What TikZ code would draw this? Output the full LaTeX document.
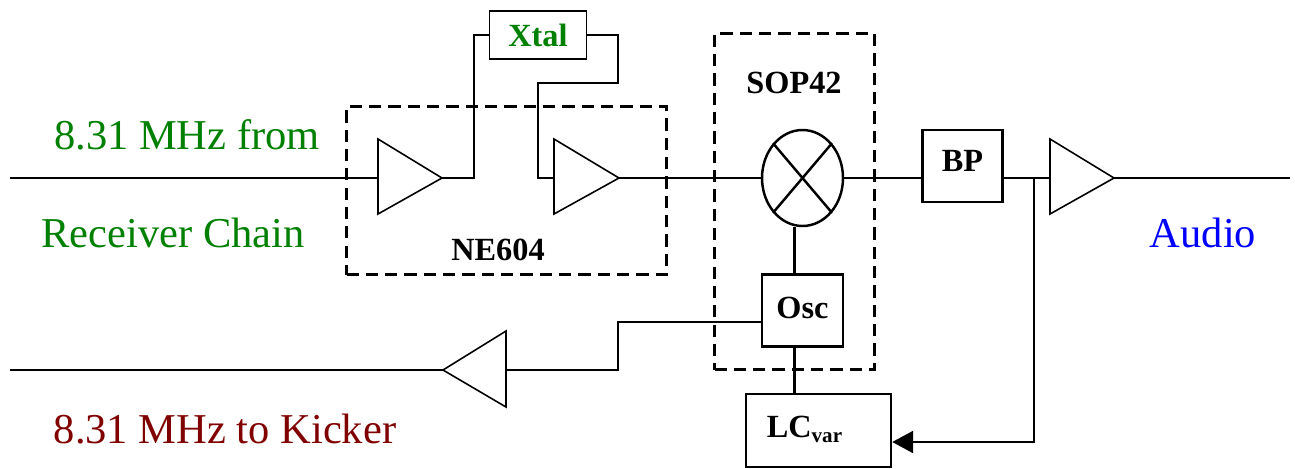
\documentclass[tikz,border=0pt]{standalone}
\usepackage{fontspec}
\setmainfont{Liberation Serif}
\usetikzlibrary{shapes.geometric,arrows.meta}
\definecolor{grn}{RGB}{0,128,0}
\definecolor{mar}{RGB}{128,0,0}
\definecolor{blu}{RGB}{0,0,255}
\newdimen\pxu \pxu=0.02cm
\begin{document}
\begin{tikzpicture}[x=0.02cm,y=-0.02cm,line width=1.4pt,
 boxn/.style={draw,rectangle,inner sep=0pt,line width=1.4pt,font=\bfseries\fontsize{18.4}{18.4}\selectfont},
 thinbox/.style={boxn,line width=0.9pt},
 dashbox/.style={draw,dash pattern=on 7pt off 4pt,rectangle,inner sep=0pt},
 lbl/.style={inner sep=0pt,font=\fontsize{24.2}{24.2}\selectfont},
 bold/.style={inner sep=0pt,font=\bfseries\fontsize{18.4}{18.4}\selectfont},
 amp/.style={line width=0.9pt}]
\useasboundingbox (0,0) rectangle (1295,468);
% dashed boxes
\node[dashbox,minimum width=320\pxu,minimum height=168\pxu] (ne) at (506.5,190.5) {};
\node[dashbox,minimum width=160\pxu,minimum height=336\pxu] (sop) at (794.5,201.5) {};
% amplifiers
\coordinate (a1l) at (378,178); \coordinate (a1r) at (442,178);
\draw[amp] (378,139) coordinate (a1t) -- (a1r) -- (378,214) coordinate (a1b) -- cycle;
\coordinate (a2l) at (554,178); \coordinate (a2r) at (619,178);
\draw[amp] (554,139) coordinate (a2t) -- (a2r) -- (554,214) coordinate (a2b) -- cycle;
\coordinate (a3l) at (1050,178); \coordinate (a3r) at (1114,178);
\draw[amp] (1050,139) coordinate (a3t) -- (a3r) -- (1050,214) coordinate (a3b) -- cycle;
\coordinate (a4l) at (443,370); \coordinate (a4r) at (506,370);
\draw[amp] (506,331) coordinate (a4t) -- (a4l) -- (506,407) coordinate (a4b) -- cycle;
% nodes
\node[thinbox,minimum width=97\pxu,minimum height=48\pxu] (xtal) at (538,35) {\textcolor{grn}{Xtal}};
\node[boxn,minimum width=80\pxu,minimum height=72\pxu] (bp) at (962.5,166) {\raisebox{6pt}{BP}};
\node[boxn,minimum width=81\pxu,minimum height=72\pxu] (osc) at (802.5,310.5) {\raisebox{3pt}{Osc}};
\node[boxn,minimum width=145\pxu,minimum height=73\pxu] (lc) at (818.5,430.5) {\raisebox{4pt}{LC{\fontsize{12}{12}\selectfont\raisebox{-3pt}{var}}}\kern 16pt};
\node[draw,ellipse,minimum width=81\pxu,minimum height=96\pxu,inner sep=0pt] (mix) at (802.5,178) {};
\draw (mix.north west) -- (mix.south east) (mix.north east) -- (mix.south west);
% free ends
\coordinate (inL) at (10,178);
\coordinate (outR) at (1290,178);
\coordinate (kick) at (10,370);
\coordinate (vt) at (794.5,0);
% connectors
\draw (inL) -- (a1l);
\draw (a1r) -- (474,178) -- (474,35) -- (xtal.west);
\draw (xtal.east) -- (618,35) -- (618,83) -- (538,83) -- (538,178) -- (a2l);
\draw (a2r) -- (mix.west);
\draw (mix.east) -- (bp.west |- mix.east);
\draw (bp.east |- a3l) -- (a3l);
\draw (a3r) -- (outR);
\draw (vt |- mix.south) -- (vt |- osc.north);
\draw (vt |- osc.south) -- (vt |- lc.north);
\draw (osc.west |- 0,322) -- (618,322) -- (618,370) -- (a4r);
\draw (a4l) -- (kick);
\draw[-{Triangle[length=0.42cm,width=0.44cm]}] (1034,178) -- (1034,442) -- (lc.east |- 0,442);
% labels
\node[lbl,text=grn] (t1) at (187,135) {8.31 MHz from};
\node[lbl,text=grn] (t2) at (173,233) {Receiver Chain};
\node[lbl,text=mar] (t3) at (225,429) {8.31 MHz to Kicker};
\node[lbl,text=blu] (t4) at (1203,233) {Audio};
\node[bold] (t5) at (498,250) {NE604};
\node[bold] (t6) at (794,83) {SOP42};
\end{tikzpicture}
\end{document}
